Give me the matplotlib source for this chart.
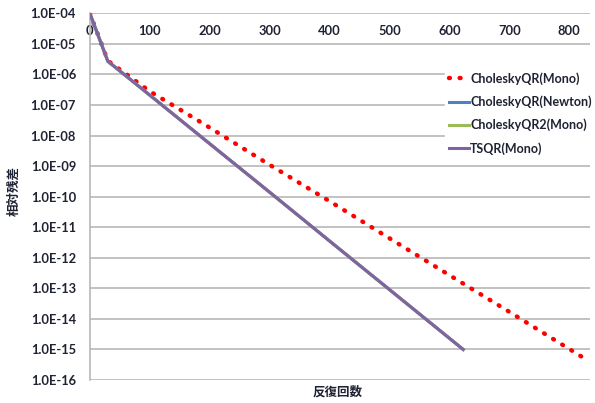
import matplotlib
matplotlib.use('Agg')
import matplotlib.pyplot as plt
from matplotlib.ticker import FixedLocator, NullLocator

plt.rcParams['font.family'] = ['Lato', 'Noto Sans CJK JP', 'DejaVu Sans']

# iteration counts and relative residuals
it_mono = [0, 30, 100, 190, 300, 400, 517, 600, 700, 822]
res_mono = [1.0e-4, 2.8e-6, 2.8e-7, 2.4e-8, 1.1e-9, 7.1e-11, 2.7e-12, 2.7e-13, 1.7e-14, 5.6e-16]

it_tsqr = [0, 30, 100, 200, 300, 413, 500, 623]
res_tsqr = [1.0e-4, 2.7e-6, 2.1e-7, 5.4e-9, 1.4e-10, 2.2e-12, 9.1e-14, 1.0e-15]

# the Newton / QR2 runs sit under the TSQR line
it_newton = it_tsqr
res_newton = res_tsqr
it_qr2 = it_tsqr
res_qr2 = res_tsqr

xticks = [0, 100, 200, 300, 400, 500, 600, 700, 800]
yticks = [10.0 ** -k for k in range(4, 17)]
ylabels = ['1.0E-%02d' % k for k in range(4, 17)]

txt = '#1f2233'
grid = '#b8b8b8'

fig = plt.figure(figsize=(5.95, 4.03), dpi=100)
ax = fig.add_axes([0.151, 0.057, 0.841, 0.910])

ax.plot(it_mono, res_mono, color='#ff0000', lw=3.2, linestyle=(0, (0.2, 2.2)),
        dash_capstyle='round', label='CholeskyQR(Mono)', zorder=3)
ax.plot(it_newton, res_newton, color='#4f81bd', lw=2.2, label='CholeskyQR(Newton)', zorder=3)
ax.plot(it_qr2, res_qr2, color='#9bbb59', lw=2.2, label='CholeskyQR2(Mono)', zorder=3)
ax.plot(it_tsqr, res_tsqr, color='#8064a2', lw=2.2, label='TSQR(Mono)', zorder=4)

ax.set_yscale('log')
ax.set_ylim(1e-16, 1e-4)
ax.set_xlim(0, 835)
ax.yaxis.set_major_locator(FixedLocator(yticks))
ax.yaxis.set_minor_locator(NullLocator())
ax.set_yticklabels(ylabels)
ax.set_xticks(xticks)
ax.set_xticklabels([str(v) for v in xticks])

for y in yticks:
    ax.axhline(y, color=grid, lw=1.2, zorder=1)

for s in ['right', 'bottom', 'top']:
    ax.spines[s].set_visible(False)
ax.spines['left'].set_color(grid)
ax.spines['left'].set_linewidth(1.2)

ax.tick_params(axis='y', length=0, pad=10, labelsize=9.3, labelcolor=txt)
ax.tick_params(axis='x', top=True, labeltop=True, bottom=False, labelbottom=False,
               length=0, pad=-17, labelsize=9.3, labelcolor=txt)
for lab in ax.get_xticklabels() + ax.get_yticklabels():
    lab.set_fontweight('bold')

fig.text(0.024, 0.526, '相対残差', rotation=90, ha='center', va='center',
         fontsize=9, fontweight='bold', color=txt,
         family=['Noto Sans CJK JP', 'DejaVu Sans'])
fig.text(0.568, 0.027, '反復回数', ha='center', va='center',
         fontsize=9, fontweight='bold', color=txt,
         family=['Noto Sans CJK JP', 'DejaVu Sans'])

leg = ax.legend(loc='upper left', bbox_to_anchor=(0.71, 0.85), frameon=True,
                fancybox=False, framealpha=1, edgecolor='white',
                prop={'weight': 'bold', 'size': 9}, handlelength=1.6,
                handletextpad=0.1, labelspacing=0.85, borderaxespad=0,
                borderpad=0.3)
for t in leg.get_texts():
    t.set_color(txt)
leg.set_zorder(5)

fig.savefig('out.png', dpi=100)
